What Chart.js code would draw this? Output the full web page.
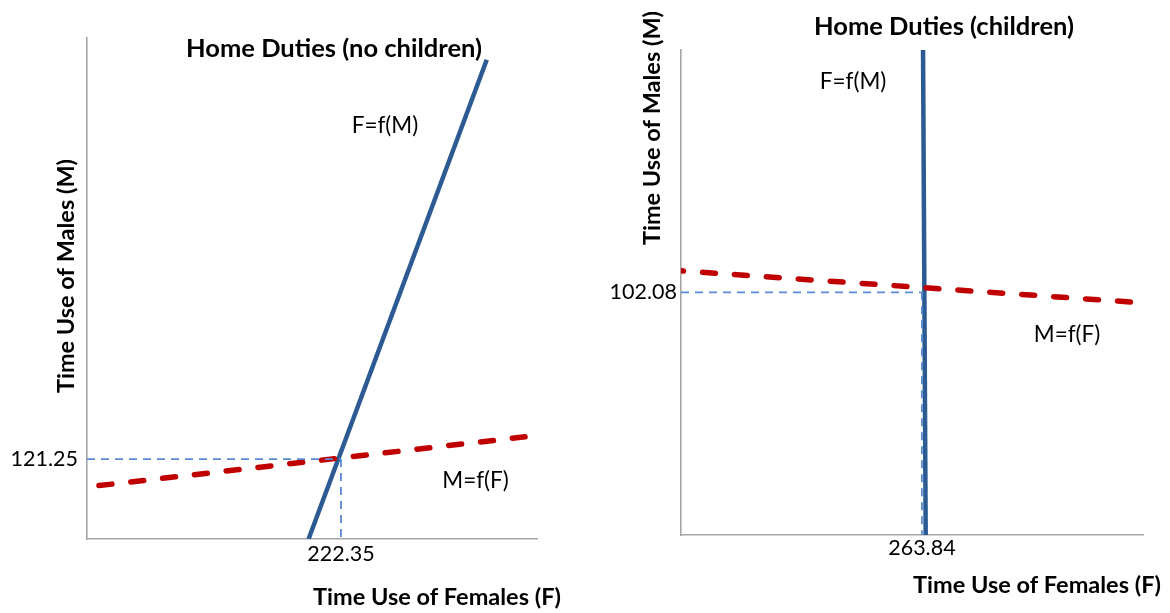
<!DOCTYPE html>
<html>
<head>
<meta charset="utf-8">
<title>Home Duties</title>
<script src="https://cdn.jsdelivr.net/npm/chart.js@4.4.1/dist/chart.umd.min.js"></script>
<style>
    html, body { margin: 0; padding: 0; background: #fff; }
    .panel { position: absolute; top: 0; width: 585px; height: 613px; }
    #left { left: 0; }
    #right { left: 585px; }
</style>
</head>
<body>
<div class="panel" id="left"><canvas id="chartLeft"></canvas></div>
<div class="panel" id="right"><canvas id="chartRight"></canvas></div>
<script>
// Home Duties (no children)
const ncFemaleRange = [0, 394];
const ncMaleRange = [0, 760];
const ncFofM_F = [194, 350];      // F=f(M), solid
const ncFofM_M = [0, 727];
const ncMofF_F = [10.5, 383.5];   // M=f(F), dashed
const ncMofF_M = [81, 155];
const ncEqF = 222.35;
const ncEqM = 121.25;

// Home Duties (children)
const chFemaleRange = [0, 506];
const chMaleRange = [0, 204];
const chFofM_F = [265.1, 268.0];
const chFofM_M = [204, 0];
const chMofF_F = [0, 492.4];
const chMofF_M = [111.1, 98.0];
const chEqF = 263.84;
const chEqM = 102.08;

const xTitle = 'Time Use of Females (F)';
const yTitle = 'Time Use of Males (M)';

Chart.defaults.font.family = 'Lato';
Chart.defaults.color = '#000';

const BLUE = '#2b5b92';
const RED = '#c00000';
const GUIDE = '#5a8bd0';
const AXIS = '#a6a6a6';

const TITLE_FONT = 'bold 25.5px Lato';
const AXIS_FONT = 'bold 23.5px Lato';
const LABEL_FONT = '22.5px Lato';

const pts = (xs, ys) => xs.map((v, i) => ({ x: v, y: ys[i] }));

// draws titles and line labels
const freeText = {
    id: 'freeText',
    afterDraw(chart, args, opts) {
        const ctx = chart.ctx;
        (opts.items || []).forEach(t => {
            let px = t.x, py = t.y;
            if (t.data) {
                px = chart.scales.x.getPixelForValue(t.x);
                py = chart.scales.y.getPixelForValue(t.y);
            }
            ctx.save();
            ctx.font = t.font;
            ctx.fillStyle = '#000';
            ctx.textAlign = 'center';
            ctx.textBaseline = 'middle';
            ctx.translate(px, py);
            if (t.rot) ctx.rotate(-Math.PI / 2);
            ctx.fillText(t.text, 0, 0);
            ctx.restore();
        });
    }
};

function makeChart(id, c) {
    return new Chart(document.getElementById(id), {
        type: 'scatter',
        data: {
            datasets: [{
                data: [{ x: 0, y: c.eqM }, { x: c.eqF, y: c.eqM }],
                borderColor: GUIDE, borderWidth: 1.8, borderDash: [8, 6]
            }, {
                data: [{ x: c.eqF, y: c.eqM }, { x: c.eqF, y: 0 }],
                borderColor: GUIDE, borderWidth: 1.8, borderDash: [8, 6]
            }, {
                label: 'M=f(F)',
                data: pts(c.redF, c.redM),
                borderColor: RED, borderWidth: 5.5, borderDash: [13, 19],
                borderDashOffset: c.dashOffset, borderCapStyle: 'round'
            }, {
                label: 'F=f(M)',
                data: pts(c.blueF, c.blueM),
                borderColor: BLUE, borderWidth: 4.5
            }].map(d => Object.assign({ showLine: true, pointRadius: 0, fill: false }, d))
        },
        options: {
            responsive: true,
            maintainAspectRatio: false,
            animation: false,
            layout: { padding: c.pad },
            plugins: {
                legend: { display: false },
                tooltip: { enabled: false },
                freeText: { items: c.texts }
            },
            scales: {
                x: {
                    type: 'linear',
                    min: c.fRange[0], max: c.fRange[1],
                    grid: { display: false, drawTicks: false },
                    border: { color: AXIS, width: 1.6 },
                    ticks: { font: { size: 21.5 }, padding: c.xTickPad, maxRotation: 0,
                             callback: v => v.toFixed(2) },
                    afterBuildTicks: s => { s.ticks = [{ value: c.eqF }]; },
                    afterFit: s => { s.height = c.xHeight; }
                },
                y: {
                    type: 'linear',
                    min: c.mRange[0], max: c.mRange[1],
                    grid: { display: false, drawTicks: false },
                    border: { color: AXIS, width: 1.6 },
                    ticks: { font: { size: 21.5 }, padding: c.yTickPad,
                             callback: v => v.toFixed(2) },
                    afterBuildTicks: s => { s.ticks = [{ value: c.eqM }]; },
                    afterFit: s => { s.width = c.yWidth; }
                }
            }
        },
        plugins: [freeText]
    });
}

makeChart('chartLeft', {
    fRange: ncFemaleRange, mRange: ncMaleRange,
    blueF: ncFofM_F, blueM: ncFofM_M, redF: ncMofF_F, redM: ncMofF_M,
    eqF: ncEqF, eqM: ncEqM, dashOffset: 0,
    pad: { top: 38, right: 48, left: 0, bottom: 0 },
    yWidth: 87, xHeight: 74, xTickPad: 2, yTickPad: 9,
    texts: [
        { text: 'Home Duties (no children)', x: 334, y: 49, font: TITLE_FONT },
        { text: xTitle, x: 437, y: 597, font: AXIS_FONT },
        { text: yTitle, x: 66, y: 276, rot: true, font: AXIS_FONT },
        { text: 'F=f(M)', x: 260.9, y: 626.5, data: true, font: LABEL_FONT },
        { text: 'M=f(F)', x: 340.2, y: 88.6, data: true, font: LABEL_FONT }
    ]
});

makeChart('chartRight', {
    fRange: chFemaleRange, mRange: chMaleRange,
    blueF: chFofM_F, blueM: chFofM_M, redF: chMofF_F, redM: chMofF_M,
    eqF: chEqF, eqM: chEqM, dashOffset: 10.5,
    pad: { top: 50, right: 27, left: 0, bottom: 0 },
    yWidth: 96, xHeight: 78, xTickPad: 0, yTickPad: 4,
    texts: [
        { text: 'Home Duties (children)', x: 359, y: 27, font: TITLE_FONT },
        { text: xTitle, x: 452, y: 585, font: AXIS_FONT },
        { text: yTitle, x: 67, y: 128, rot: true, font: AXIS_FONT },
        { text: 'F=f(M)', x: 188.4, y: 190.5, data: true, font: LABEL_FONT },
        { text: 'M=f(F)', x: 422.8, y: 84.3, data: true, font: LABEL_FONT }
    ]
});
</script>
</body>
</html>
